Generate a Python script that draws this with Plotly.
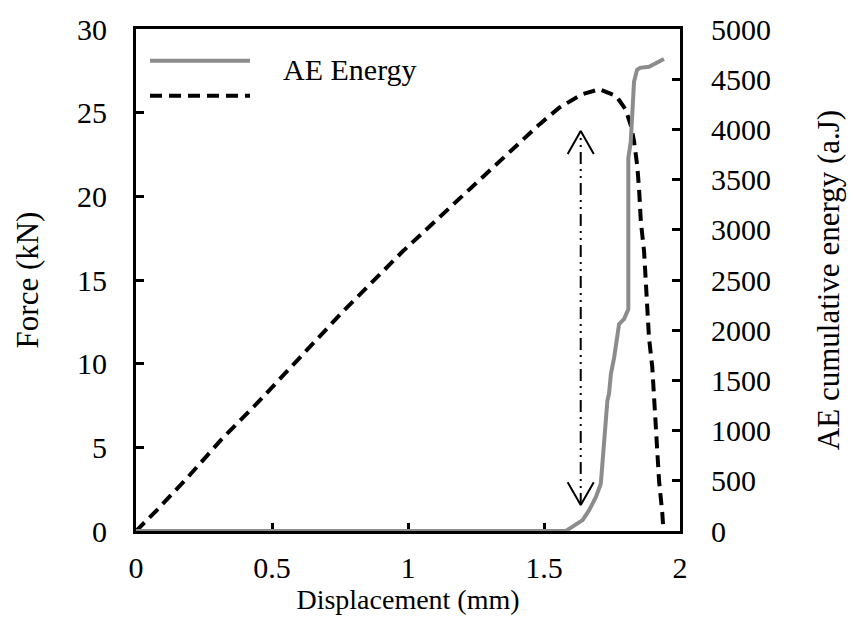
import plotly.graph_objects as go

# Force-displacement curve (left axis)
disp_force = [0, 0.077, 0.19, 0.31, 0.455, 0.6, 0.76, 0.98, 1.2, 1.372, 1.483, 1.556,
              1.64, 1.703, 1.765, 1.80, 1.807, 1.82, 1.831, 1.843, 1.85, 1.856,
              1.868, 1.874, 1.88, 1.886, 1.898, 1.905, 1.911, 1.917, 1.923, 1.935, 1.938]
force = [0, 1.25, 3.2, 5.4, 7.8, 10.3, 13.1, 16.7, 20.0, 22.6, 24.3, 25.3,
         26.1, 26.4, 26.0, 25.2, 24.8, 24.2, 23.3, 21.8, 20.3, 18.5,
         16.7, 14.9, 13.3, 11.55, 9.8, 8.0, 6.4, 4.6, 3.0, 1.05, 0.3]

# AE cumulative energy (right axis)
disp_ae = [0, 1.58, 1.605, 1.642, 1.666, 1.691, 1.709, 1.715, 1.721, 1.727, 1.733,
           1.739, 1.746, 1.758, 1.770, 1.776, 1.794, 1.810, 1.810, 1.808, 1.810,
           1.819, 1.831, 1.842, 1.853, 1.886, 1.905, 1.941]
ae_energy = [0, 0, 43, 109, 208, 340, 473, 671, 836, 1002, 1300,
             1366, 1565, 1729, 1961, 2060, 2110, 2209, 3152, 3614, 3713,
             3879, 4474, 4593, 4613, 4623, 4653, 4702]

# Double-headed arrow marker (displacement, force range)
arrow_x = 1.635
arrow_force = [1.55, 23.9]
head_dx = 0.048
head_dy = 1.37

x_ticks = [0, 0.5, 1, 1.5, 2]
x_tick_labels = ["0", "0.5", "1", "1.5", "2"]

legend_labels = ["AE Energy", ""]

FONT = "Liberation Serif"
GRAY = "#8c8c8c"
DASH = "12px,7px"

fig = go.Figure()

fig.add_trace(go.Scatter(
    x=disp_force, y=force, mode="lines", name="Force", showlegend=False,
    line=dict(color="black", width=4, dash=DASH), yaxis="y"))

fig.add_trace(go.Scatter(
    x=disp_ae, y=ae_energy, mode="lines", name="AE Energy", showlegend=False,
    line=dict(color=GRAY, width=4), yaxis="y2"))

# arrow shaft
fig.add_trace(go.Scatter(
    x=[arrow_x, arrow_x], y=arrow_force, mode="lines", showlegend=False,
    line=dict(color="black", width=2, dash="12px,5px,2px,5px,2px,5px"), hoverinfo="skip"))
# arrow heads (open chevrons)
top = arrow_force[1]
bot = arrow_force[0]
fig.add_trace(go.Scatter(
    x=[arrow_x - head_dx, arrow_x, arrow_x + head_dx, None,
       arrow_x - head_dx, arrow_x, arrow_x + head_dx],
    y=[top - head_dy, top, top - head_dy, None,
       bot + head_dy, bot, bot + head_dy],
    mode="lines", showlegend=False, hoverinfo="skip",
    line=dict(color="black", width=2)))

axis_common = dict(
    showline=True, linecolor="black", linewidth=3,
    ticks="inside", ticklen=8, tickwidth=3, tickcolor="black",
    showgrid=False, zeroline=False,
    tickfont=dict(family=FONT, size=30, color="black"),
)

# hand-drawn legend (paper coordinates)
PW, PH = 544.0, 504.0
def px_x(px):
    return (px - 136) / PW
def px_y(py):
    return (531 - py) / PH

shapes = [
    dict(type="line", xref="paper", yref="paper", x0=px_x(150), x1=px_x(250),
         y0=px_y(59), y1=px_y(59), line=dict(color=GRAY, width=4)),
    dict(type="line", xref="paper", yref="paper", x0=px_x(150), x1=px_x(250),
         y0=px_y(94), y1=px_y(94), line=dict(color="black", width=4, dash=DASH)),
]
annotations = [
    dict(text=legend_labels[0], xref="paper", yref="paper", x=px_x(281), y=px_y(68),
         xanchor="left", yanchor="middle", showarrow=False,
         font=dict(family=FONT, size=30, color="black")),
]

fig.update_layout(
    width=855, height=630,
    margin=dict(l=136, r=175, t=27, b=99),
    paper_bgcolor="white", plot_bgcolor="white",
    font=dict(family=FONT, color="black"),
    xaxis=dict(range=[0, 2], tickvals=x_ticks, ticktext=x_tick_labels,
               mirror=True, layer="below traces",
               title=dict(text="Displacement (mm)", font=dict(family=FONT, size=28), standoff=0),
               ticklabelstandoff=8, **axis_common),
    yaxis=dict(range=[0, 30], dtick=5,
               title=dict(text="Force (kN)", font=dict(family=FONT, size=31), standoff=30),
               ticklabelstandoff=20, **axis_common),
    yaxis2=dict(range=[0, 5000], dtick=500, overlaying="y", side="right",
                title=dict(text="AE cumulative energy (a.J)", font=dict(family=FONT, size=31), standoff=48),
                ticklabelstandoff=22, **axis_common),
    shapes=shapes,
    annotations=annotations,
    showlegend=False,
)

fig.write_html("out.html")
